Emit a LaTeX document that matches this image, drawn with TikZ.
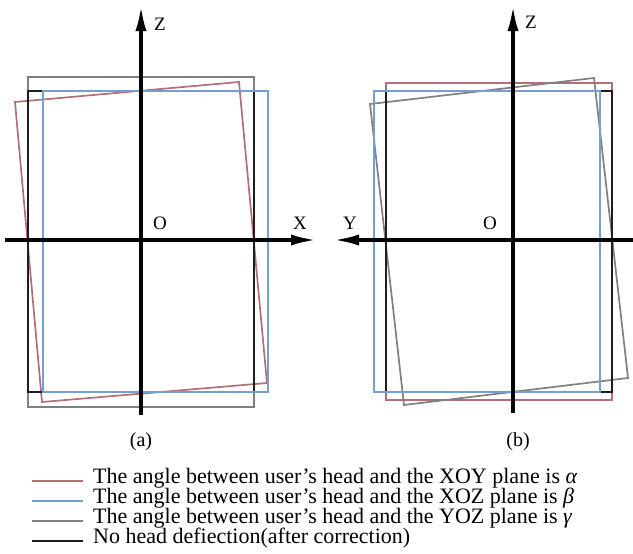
\documentclass[tikz,border=0pt]{standalone}
\usepackage{fontspec}
\setmainfont{Liberation Serif}
\usetikzlibrary{arrows.meta}
\definecolor{headred}{RGB}{178,112,118}
\definecolor{headblue}{RGB}{118,158,206}
\definecolor{headgray}{RGB}{128,128,128}
\definecolor{headblack}{RGB}{30,30,30}

\begin{document}
\begin{tikzpicture}[x=1pt,y=-1pt]
  \tikzset{axis/.style={line width=3.6pt, -{Latex[length=26pt,width=11pt]}},
    frame/.style={line width=1.7pt},
    lbl/.style={font=\fontsize{19}{20}\selectfont, inner sep=0pt},
    leg/.style={font=\fontsize{22}{20}\selectfont, anchor=base west, inner sep=0pt}}
\useasboundingbox (0,0) rectangle (633,554);
\draw[frame, headgray] (28,77) rectangle (254,407);
\draw[frame, headred] (15,102) -- (239,82) -- (267,383) -- (42,402) -- cycle;
\draw[frame, headblack] (28,91) rectangle (254,392);
\draw[frame, headblue] (43,91) rectangle (268,392);
\draw[frame, headred] (386,83) rectangle (612,400);
\draw[frame, headgray] (370,104) -- (594,78) -- (628,378) -- (404,405) -- cycle;
\draw[frame, headblack] (386,91) rectangle (612,392);
\draw[frame, headblue] (374,91) rectangle (600,392);
\coordinate (zaBot) at (141,415); \coordinate (zaTop) at (141,5);
\coordinate (xaL) at (5,240); \coordinate (xaR) at (317,240);
\coordinate (zbBot) at (513,413); \coordinate (zbTop) at (513,5);
\coordinate (ybR) at (633,240); \coordinate (ybL) at (333,240);
\draw[axis] (zaBot) -- (zaTop); \draw[axis] (xaL) -- (xaR);
\draw[axis] (zbBot) -- (zbTop); \draw[axis] (ybR) -- (ybL);
\node[lbl] (zA) at (160,24) {Z};
\node[lbl] (oA) at (160,223) {O};
\node[lbl] (xA) at (300,223) {X};
\node[lbl] (zB) at (531,22) {Z};
\node[lbl] (yB) at (350,223) {Y};
\node[lbl] (oB) at (490,223) {O};
\node[lbl, font=\fontsize{20}{20}\selectfont] (capA) at (141,442) {(a)};
\node[lbl, font=\fontsize{20}{20}\selectfont] (capB) at (518,442) {(b)};
\node[leg] (t1) at (93,483) {The angle between user’s head and the XOY plane is \textit{α}};
\node[leg] (t2) at (93,503) {The angle between user’s head and the XOZ plane is \textit{β}};
\node[leg] (t3) at (93,523) {The angle between user’s head and the YOZ plane is \textit{γ}};
\node[leg] (t4) at (93,543) {No head defiection(after correction)};
\coordinate (k1a) at (32,481); \coordinate (k1b) at (83,481);
\coordinate (k2a) at (32,501); \coordinate (k2b) at (83,501);
\coordinate (k3a) at (32,521); \coordinate (k3b) at (83,521);
\coordinate (k4a) at (32,541); \coordinate (k4b) at (83,541);
\draw[frame, headred] (k1a) -- (k1b);
\draw[frame, headblue] (k2a) -- (k2b);
\draw[frame, headgray] (k3a) -- (k3b);
\draw[frame, headblack] (k4a) -- (k4b);
\end{tikzpicture}
\end{document}
